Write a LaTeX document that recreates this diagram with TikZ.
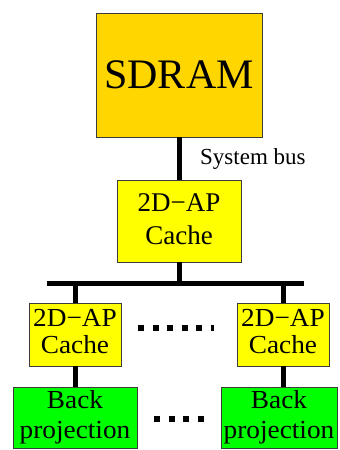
\documentclass[tikz,border=0pt]{standalone}
\usepackage{fontspec}
\setmainfont{Liberation Serif}
\usetikzlibrary{positioning}

\definecolor{sdramgold}{RGB}{255,214,0}
\definecolor{cacheyellow}{RGB}{255,255,0}
\definecolor{bpgreen}{RGB}{0,255,0}
\definecolor{boxline}{RGB}{60,60,60}

\newcommand{\twolines}[2]{\begin{tabular}{@{}c@{}}#1\\#2\end{tabular}}

\tikzset{
  unit/.style={draw=boxline, line width=0.9pt, inner sep=0pt, align=center},
  bus/.style={line width=5pt},
  dotrow/.style={line width=6pt, dash pattern=on 6pt off 8.5pt}
}

\begin{document}
\begin{tikzpicture}[x=1pt, y=-1pt]
  \useasboundingbox (0,0) rectangle (340,450);

  \node (sdram) [unit, fill=sdramgold, minimum width=166pt, minimum height=124pt,
    font=\fontsize{10.5}{12}\selectfont] at (179,75) {\scalebox{4}{SDRAM}};
  \node (cache) [unit, fill=cacheyellow, minimum width=124pt, minimum height=82pt,
    font=\fontsize{13.5}{16.5}\selectfont] at (179,221)
    {\scalebox{2}{\twolines{2D−AP}{Cache}}};
  \node (sysbus) [anchor=west, inner sep=0pt, font=\fontsize{11.5}{13}\selectfont]
    at (200,159) {\scalebox{2}{System bus}};

  \node (cachel) [unit, fill=cacheyellow, minimum width=92pt, minimum height=63pt,
    font=\fontsize{13}{13.5}\selectfont] at (75,334.5)
    {\scalebox{2.1}[2]{\twolines{2D−AP}{Cache}}};
  \node (cacher) [unit, fill=cacheyellow, minimum width=92pt, minimum height=63pt,
    font=\fontsize{13}{13.5}\selectfont] at (283,334.5)
    {\scalebox{2.1}[2]{\twolines{2D−AP}{Cache}}};
  \node (bpl) [unit, fill=bpgreen, minimum width=124pt, minimum height=61pt,
    font=\fontsize{13}{15}\selectfont] at (75,417.5)
    {\scalebox{2.1}[2]{\twolines{Back}{projection}}};
  \node (bpr) [unit, fill=bpgreen, minimum width=116pt, minimum height=61pt,
    font=\fontsize{13}{15}\selectfont] at (279,417.5)
    {\scalebox{2.1}[2]{\twolines{Back}{projection}}};

  \coordinate (busl) at (47,283);
  \coordinate (busr) at (304,283);

  \draw [bus] (sdram) to (cache);
  \draw [bus] (busl) to (busr);
  \draw [bus] (cache.south) to (cache.south |- busl);
  \draw [bus] (cachel.north |- busl) to (cachel.north);
  \draw [bus] (cacher.north |- busl) to (cacher.north);
  \draw [bus] (cachel) to (cachel |- bpl.north);
  \draw [bus] (cacher) to (cacher |- bpr.north);

  \coordinate (dotsa) at (138,328);
  \coordinate (dotsb) at (214,328);
  \coordinate (dotsc) at (154,419);
  \coordinate (dotsd) at (204,419);
  \draw [dotrow] (dotsa) to (dotsb);
  \draw [dotrow] (dotsc) to (dotsd);
\end{tikzpicture}
\end{document}
